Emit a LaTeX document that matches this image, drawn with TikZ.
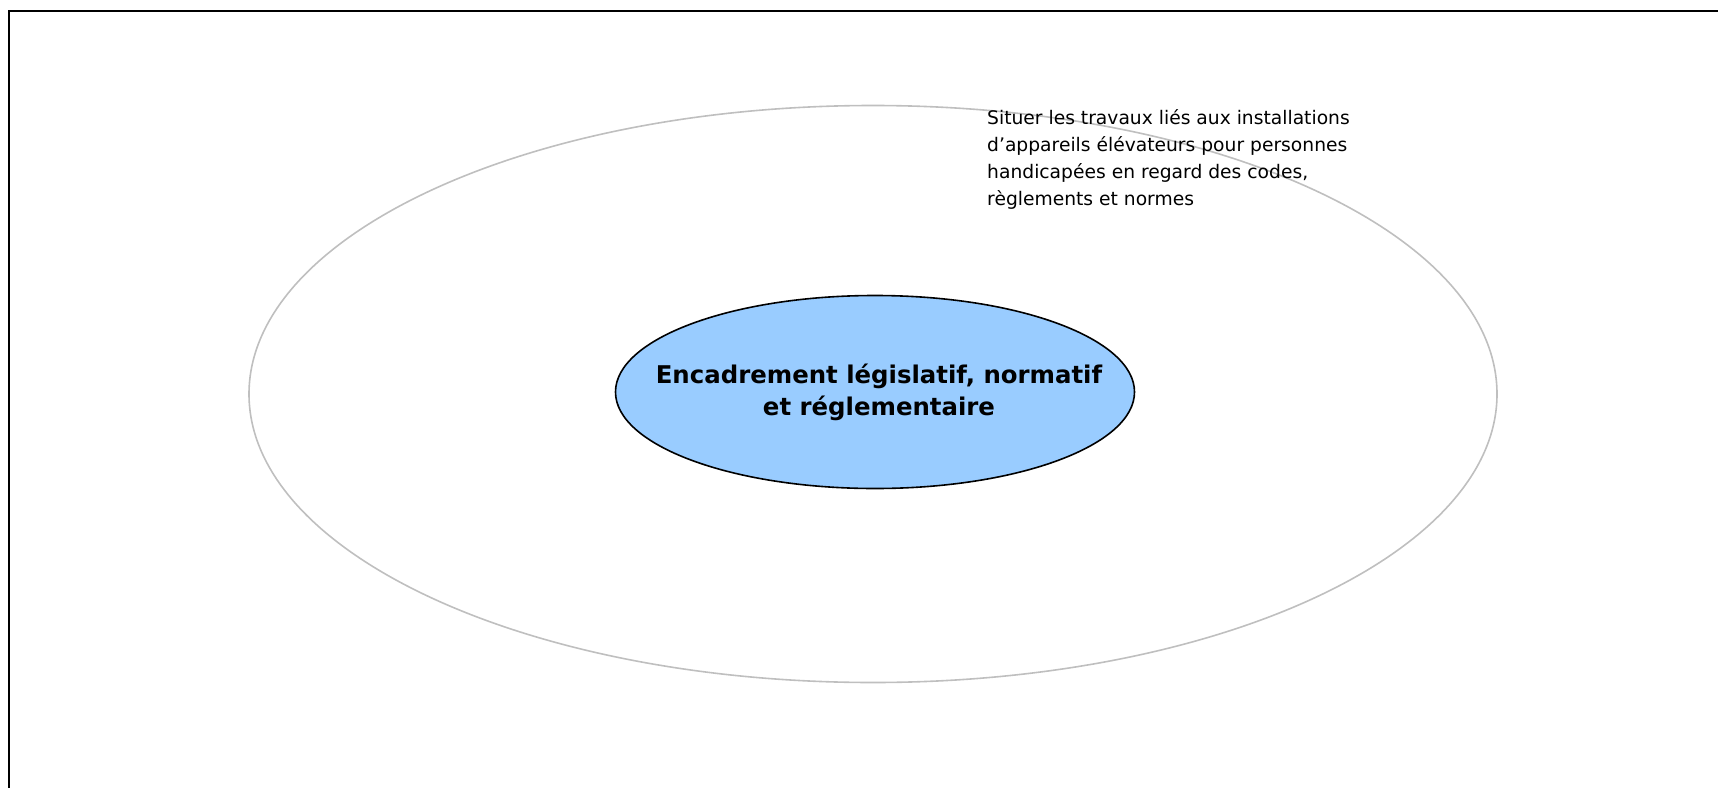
\documentclass[tikz,border=0pt]{standalone}
\usepackage{fontspec}
\setmainfont{DejaVu Sans}
\usepackage{tikz}
\usetikzlibrary{shapes,positioning}
\definecolor{bulle}{RGB}{153,204,255}
\definecolor{contour}{RGB}{191,191,191}

\begin{document}
\begin{tikzpicture}[
        x=1pt, y=-1pt,
        % Block styles
        outer/.style={
            ellipse,
            draw=contour,
            line width=1.6pt,
            minimum width=1248pt,
            minimum height=577pt
        },
        core/.style={
            ellipse,
            draw=black,
            line width=1.6pt,
            fill=bulle,
            minimum width=519pt,
            minimum height=193pt
        },
        corelabel/.style={
            inner sep=0pt,
            align=center,
            font=\fontsize{24.4}{32}\selectfont\bfseries
        },
        note/.style={
            anchor=north west,
            inner sep=0pt,
            align=left,
            font=\fontsize{18.7}{27}\selectfont
        },
        frame/.style={line width=2.5pt}
    ]

    \useasboundingbox (0,0) rectangle (1718,787);
    \clip (0,0) rectangle (1718,787);

    % Frame
    \draw[frame] (9,800) -- (9,11) -- (1730,11);

    % Ellipses
    \node[outer] (champ) at (873,394) {};
    \node[core] (cadre) at (875,392) {};
    \node[corelabel] (cadretxt) at ([xshift=4pt]cadre.center) {Encadrement législatif, normatif\\et réglementaire};

    % Note
    \node[note] (situer) at (987,109) {Situer les travaux liés aux installations\\d’appareils élévateurs pour personnes\\handicapées en regard des codes,\\règlements et normes};

\end{tikzpicture}
\end{document}
